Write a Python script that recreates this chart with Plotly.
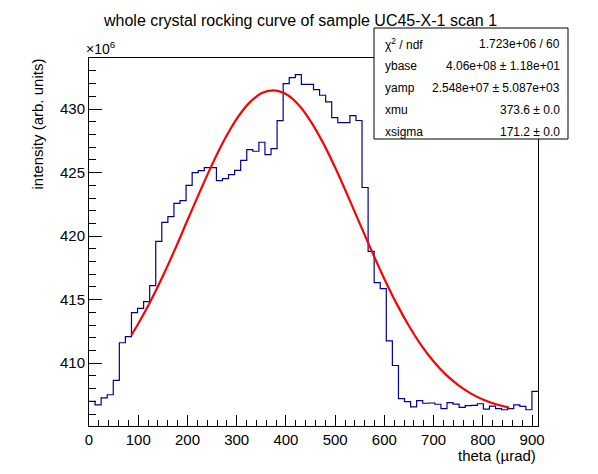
import numpy as np
import plotly.graph_objects as go

### Data (intensity in units of 1e6)
theta_lo, theta_hi, n_bins = 0., 912., 74
intensity = [407.00, 406.73, 407.28, 407.52, 408.65, 411.61, 412.09, 413.98, 414.31, 414.84,
             416.10, 419.59, 421.09, 421.54, 422.58, 422.80, 424.00, 425.00, 425.16, 425.39,
             425.40, 424.37, 424.53, 424.84, 425.18, 425.97, 426.81, 426.68, 427.39, 426.42,
             426.89, 429.09, 432.00, 432.48, 432.71, 431.95, 431.95, 431.53, 431.09, 430.56,
             429.33, 428.94, 428.94, 429.48, 429.10, 423.83, 418.80, 416.34, 415.87, 411.76,
             409.82, 407.22, 406.98, 406.57, 407.05, 406.85, 406.87, 406.77, 406.42, 406.90,
             406.78, 406.52, 406.66, 406.69, 406.81, 406.39, 406.62, 406.42, 406.34, 406.42,
             406.73, 406.60, 406.34, 407.78]

# red fit curve
fit_theta = [86, 100, 125, 150, 175, 200, 225, 250, 275, 300, 325, 350, 374, 400, 425, 450,
             475, 500, 525, 550, 575, 600, 625, 650, 675, 700, 725, 750, 775, 800, 825, 853]
fit_int = [412.21, 413.11, 414.88, 416.86, 419.00, 421.25, 423.48, 425.63, 427.58, 429.23,
           430.47, 431.24, 431.48, 431.18, 430.36, 429.06, 427.38, 425.40, 423.23, 420.99,
           418.76, 416.63, 414.67, 412.93, 411.41, 410.14, 409.10, 408.27, 407.63, 407.15,
           406.79, 406.51]

stat_names = ['χ<sup>2</sup> / ndf', 'ybase', 'yamp', 'xmu', 'xsigma']
stat_values = ['1.723e+06 / 60', '4.06e+08 ± 1.18e+01', '2.548e+07 ± 5.087e+03',
               '373.6 ± 0.0', '171.2 ± 0.0']

title = 'whole crystal rocking curve of sample UC45-X-1 scan 1'
xtitle = 'theta (µrad)'
ytitle = 'intensity (arb. units)'

### Geometry (pixels of the 598x474 canvas)
W, H = 598, 474
L, R, T, B = 89, 538, 58, 426
def px(x):
    return (x - L) / (R - L)
def py(y):
    return (B - y) / (B - T)

FONT = 'Liberation Sans, Arial, sans-serif'

edges = np.linspace(theta_lo, theta_hi, n_bins + 1)
hx = list(edges)
hy = intensity + [intensity[-1]]

fig = go.Figure()
fig.add_trace(go.Scatter(x=hx, y=hy, mode='lines', line_shape='hv',
                         line=dict(color='#000099', width=1.2), hoverinfo='skip'))
fig.add_trace(go.Scatter(x=fit_theta, y=fit_int, mode='lines', line_shape='spline',
                         line=dict(color='#ff0000', width=2.2), hoverinfo='skip'))

axis_common = dict(showline=True, linecolor='black', linewidth=1, mirror=True,
                   ticks='inside', tickcolor='black', showgrid=False, zeroline=False,
                   automargin=False,
                   tickfont=dict(family=FONT, size=15, color='black'))
fig.update_xaxes(range=[theta_lo, theta_hi], tick0=0, dtick=100, ticklen=11,
                 minor=dict(dtick=20, ticklen=6, ticks='inside', tickcolor='black'),
                 **axis_common)
fig.update_yaxes(range=[405.06, 434.02], tick0=405, dtick=5, ticklen=13,
                 minor=dict(dtick=1, ticklen=7, ticks='inside', tickcolor='black'),
                 **axis_common)

ann = []
ann.append(dict(text=title, x=px(300), y=py(20), xref='paper', yref='paper',
                xanchor='center', yanchor='middle', showarrow=False,
                font=dict(family=FONT, size=16, color='black')))
ann.append(dict(text=xtitle, x=px(538), y=py(455), xref='paper', yref='paper',
                xanchor='right', yanchor='middle', showarrow=False,
                font=dict(family=FONT, size=15, color='black')))
ann.append(dict(text=ytitle, x=px(37), y=py(57), xref='paper', yref='paper',
                xanchor='center', yanchor='top', textangle=-90, showarrow=False,
                font=dict(family=FONT, size=15, color='black')))
ann.append(dict(text='×10<sup>6</sup>', x=px(84), y=py(48), xref='paper', yref='paper',
                xanchor='left', yanchor='middle', showarrow=False,
                font=dict(family=FONT, size=14, color='black')))

# stats box
row_y = [44, 66, 88, 110, 132]
for name, val, yy in zip(stat_names, stat_values, row_y):
    ann.append(dict(text=name, x=px(383), y=py(yy), xref='paper', yref='paper',
                    xanchor='left', yanchor='middle', showarrow=False,
                    font=dict(family=FONT, size=12, color='black')))
    ann.append(dict(text=val, x=px(562), y=py(yy), xref='paper', yref='paper',
                    xanchor='right', yanchor='middle', showarrow=False,
                    font=dict(family=FONT, size=12, color='black')))

fig.add_shape(type='rect', xref='paper', yref='paper', x0=px(374), x1=px(568),
              y0=py(139), y1=py(28), line=dict(color='black', width=1),
              fillcolor='white', layer='above')

fig.update_layout(width=W, height=H, margin=dict(l=L, r=W - R, t=T, b=H - B),
                  paper_bgcolor='white', plot_bgcolor='white', showlegend=False,
                  annotations=ann)

# the page body has an 8px default margin; drop it so the canvas sits at 0,0
fig.write_html('out.html', config={'displayModeBar': False},
               post_script="document.body.style.margin='0';")
